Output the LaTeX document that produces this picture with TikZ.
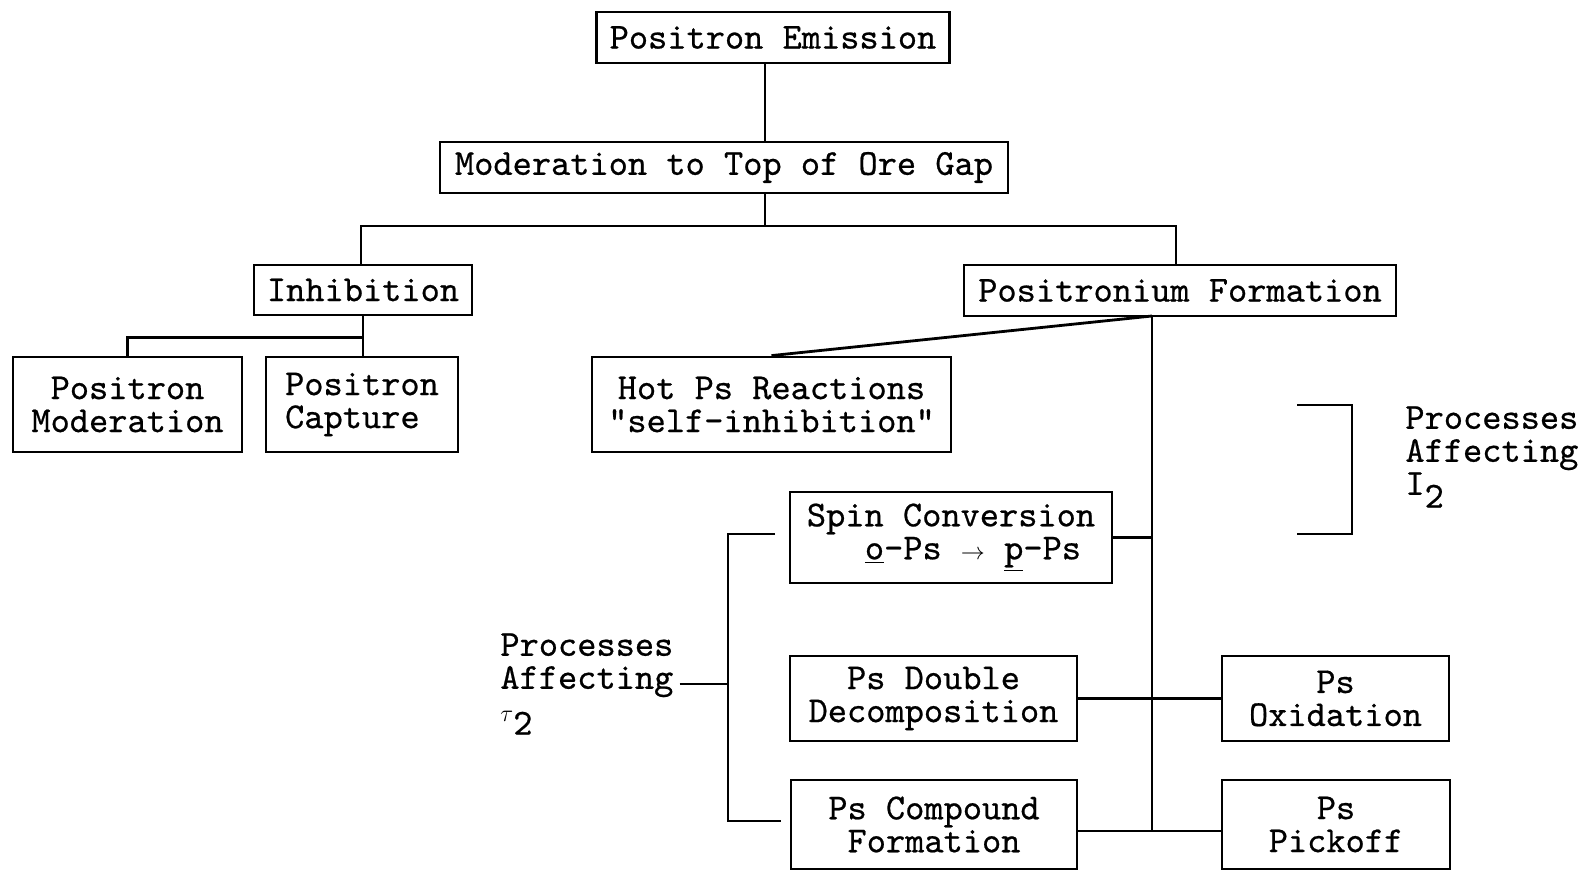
\documentclass[tikz,border=0pt]{standalone}
\usepackage{fontspec}
\newfontfamily\tw{lmmono10-regular}[Extension=.otf, FakeBold=0.6]

\tikzset{
  procbox/.style={draw, line width=1.4pt, align=center, inner sep=0pt,
    font=\tw\fontsize{18.3}{16.5}\selectfont},
  boxsize/.style 2 args={minimum width=#1*0.5pt, minimum height=#2*0.5pt},
  sidetext/.style={align=left, anchor=west, inner sep=3pt,
    font=\tw\fontsize{18.3}{16.5}\selectfont},
  link/.style={line width=1.4pt}
}

\begin{document}
\begin{tikzpicture}[x=0.5pt, y=-0.5pt]
\useasboundingbox (0,0) rectangle (1585,876);

\node[procbox, boxsize={353}{51}] (emis) at (773,37.5) {Positron Emission};
\node[procbox, boxsize={568}{51}] (moder) at (724,167.5) {Moderation to Top of Ore Gap};
\node[procbox, boxsize={218}{50}] (inhib) at (363,290) {Inhibition};
\node[procbox, boxsize={432}{51}] (psform) at (1180,290.5) {Positronium Formation};
\node[procbox, boxsize={229}{95}] (pmod) at (127.5,404.5) {Positron\\Moderation};
\node[procbox, boxsize={192}{95}, align=left] (pcap) at (362,404.5) {Positron\\Capture};
\node[procbox, boxsize={359}{95}] (hotps) at (771.5,404.5) {Hot Ps Reactions\\"self-inhibition"};
\node[procbox, boxsize={322}{91}] (spin) at (951,537.5) {Spin Conversion\\\hspace*{1.2em}\underline{o}-Ps {\fontsize{13}{13}\selectfont$\rightarrow$} \underline{p}-Ps};
\node[procbox, boxsize={287}{85}] (dbl) at (933.5,698.5) {Ps Double\\Decomposition};
\node[procbox, boxsize={286}{89}] (comp) at (934,824.5) {Ps Compound\\Formation};
\node[procbox, boxsize={227}{85}] (oxid) at (1335.5,698.5) {Ps\\Oxidation};
\node[procbox, boxsize={228}{89}] (pick) at (1336,824.5) {Ps\\Pickoff};

\node[sidetext] (taulbl) at (494,684) {Processes\\Affecting\\{\fontsize{13}{13}\selectfont$\tau$}\raisebox{-.35em}{2}};
\node[sidetext] (ilbl) at (1399,457) {Processes\\Affecting\\I\raisebox{-.35em}{2}};

% tree trunk and bus
\coordinate (trunk) at (765,226);
\coordinate (busL) at (361,226);
\coordinate (busR) at (1176,226);
\draw[link] (emis.south -| trunk) -- (moder.north -| trunk);
\draw[link] (moder.south -| trunk) -- (trunk);
\draw[link] (busL |- inhib.north) -- (busL) -- (busR) -- (busR |- psform.north);

% inhibition branch
\draw[link] (inhib.south) -- (inhib.south |- pcap.north);
\draw[link] (inhib.south) ++(0,21) coordinate (inhJ) -| (pmod.north);

% positronium spine
\coordinate (spineT) at (1152,316);
\coordinate (spineB) at (1152,831);
\draw[link] (spineT) -- (spineB);
\draw[link] (spineT) -- (hotps.north);
\draw[link] (spin.east) -- (spin.east -| spineT);
\draw[link] (dbl.east) -- (oxid.west);
\draw[link] (comp.east |- spineB) -- (pick.west |- spineB);

% brackets
\coordinate (tauT) at (775,534);
\coordinate (tauX) at (728,684);
\coordinate (tauB) at (781,821);
\draw[link] (tauT) -| (tauX) |- (tauB);
\draw[link] (taulbl.east) -- (tauX);
\coordinate (iT) at (1297,405);
\coordinate (iX) at (1352,470);
\coordinate (iB) at (1297,534);
\draw[link] (iT) -| (iX) |- (iB);
\end{tikzpicture}
\end{document}
